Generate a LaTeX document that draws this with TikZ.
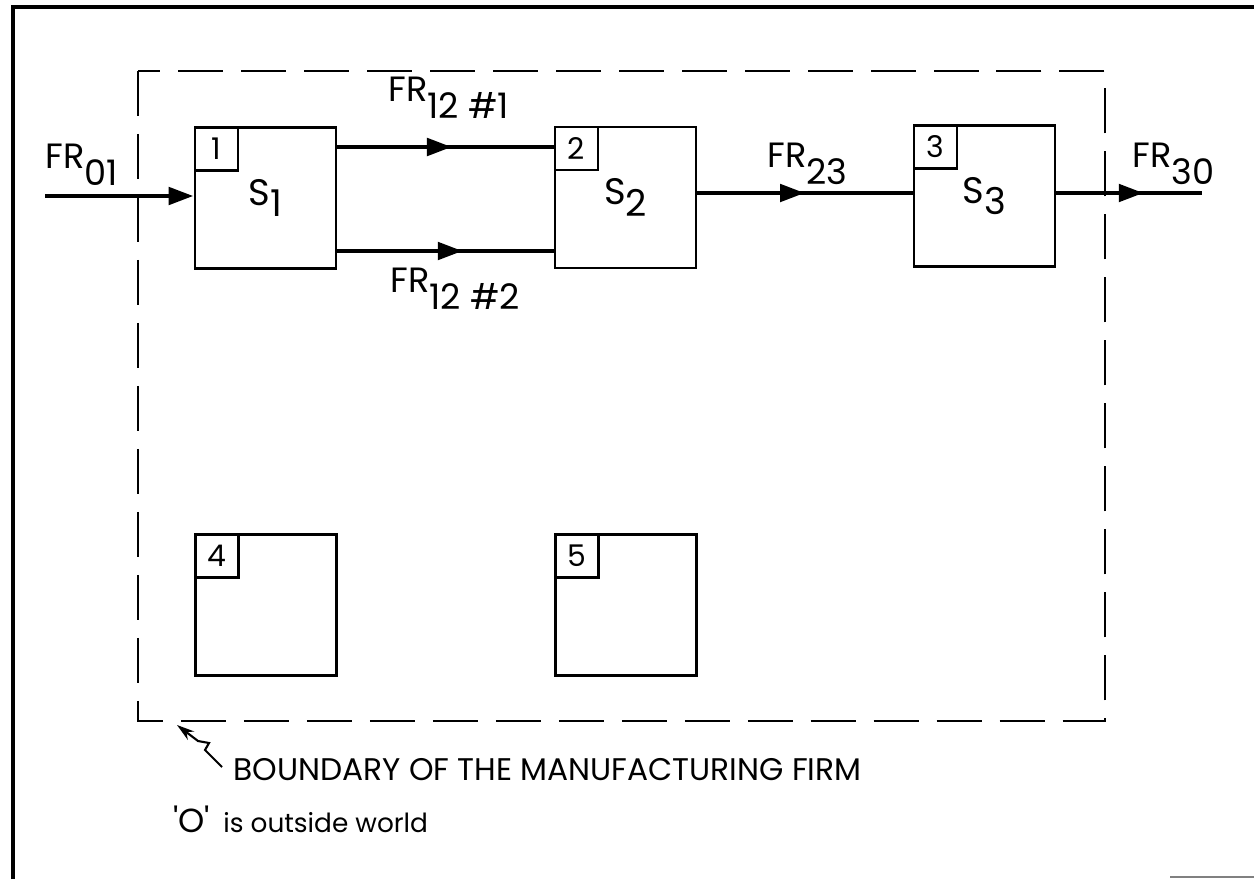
\documentclass[tikz,border=0pt]{standalone}
\usepackage{fontspec}
\setmainfont{Poppins}
\usetikzlibrary{arrows.meta,positioning,decorations.markings}

\newcommand{\flowname}[1]{FR\raisebox{-0.5em}{#1}}
\newcommand{\sysname}[1]{S\raisebox{-0.3em}{#1}}

\begin{document}
\begin{tikzpicture}[x=0.02cm, y=-0.02cm,
    sysbox/.style={draw, line width=1.6pt, minimum width=2.82cm, minimum height=2.82cm, inner sep=0pt, font=\fontsize{21}{24}\selectfont},
    tagbox/.style={draw, line width=1.4pt, minimum size=0.86cm, inner sep=0pt, anchor=north west, font=\fontsize{17}{19}\selectfont},
    lbl/.style={anchor=base west, inner sep=0pt, font=\fontsize{20}{23}\selectfont},
    flow/.style={line width=2.8pt, postaction={decorate}, decoration={markings, mark=at position #1 with {\arrow{Triangle[length=0.5cm,width=0.34cm]}}}},
    flow/.default=0.55,
    inflow/.style={line width=2.8pt, -{Triangle[length=0.5cm,width=0.34cm]}},
    bound/.style={line width=1.5pt, dash pattern=on 0.9cm off 0.36cm},
    note/.style={anchor=base west, inner sep=0pt, font=\fontsize{17.8}{21}\selectfont}
  ]
    \useasboundingbox (0,0) rectangle (1254,879);
    % frame and firm boundary
    \draw[line width=2.2pt] (13,879) -- (13,7) -- (1254,7);
    \draw[gray, line width=1pt] (1170,877) -- (1254,877);
    \draw[bound] (138,71) rectangle (1105,721);

    % stages
    \node[sysbox] (s1) at (265.5,198) {\sysname{1}};
    \node[sysbox] (s2) at (625.5,197.5) {\sysname{2}};
    \node[sysbox] (s3) at (984.5,196) {\sysname{3}};
    \node[sysbox] (s4) at (266,605) {};
    \node[sysbox] (s5) at (626,605) {};
    \node[tagbox] (t1) at (s1.north west) {1};
    \node[tagbox] (t2) at (s2.north west) {2};
    \node[tagbox] (t3) at (s3.north west) {3};
    \node[tagbox] (t4) at (s4.north west) {4};
    \node[tagbox] (t5) at (s5.north west) {5};

    % flows
    \coordinate (in0) at (45,196);
    \coordinate (out0) at (1202,193);
    \coordinate (r1) at (0,147);
    \coordinate (r2) at (0,251);
    \draw[inflow] (in0) -- (in0 -| s1.west);
    \draw[flow=0.53] (s1.east |- r1) -- (s2.west |- r1);
    \draw[flow=0.58] (s1.east |- r2) -- (s2.west |- r2);
    \draw[flow=0.5] (s2.east |- out0) -- (s3.west |- out0);
    \draw[flow=0.6] (s3.east |- out0) -- (out0);

    \node[lbl] (fr01) at (45,168) {\flowname{01}};
    \node[lbl] (fr12a) at (388,101) {\flowname{12 \#1}};
    \node[lbl] (fr12b) at (390,292) {\flowname{12 \#2}};
    \node[lbl] (fr23) at (767,167) {\flowname{23}};
    \node[lbl] (fr30) at (1132,167) {\flowname{30}};

    % notes
    \node[note] (bnd) at (233,780) {BOUNDARY OF THE MANUFACTURING FIRM};
    \node[note, font=\fontsize{15}{18}\selectfont] (world) at (173,832) {{\fontsize{19}{21}\selectfont\textquotesingle O\textquotesingle}\hspace{0.5em}is outside world};
    \coordinate (ptrtail) at (222,767);
    \coordinate (ptrtip) at (177,725);
    \draw[line width=1.2pt, -{Stealth[length=10pt,width=6pt]}] (ptrtail) -- (205,750) -- (209,743) -- (198,741) -- (ptrtip);
\end{tikzpicture}
\end{document}
